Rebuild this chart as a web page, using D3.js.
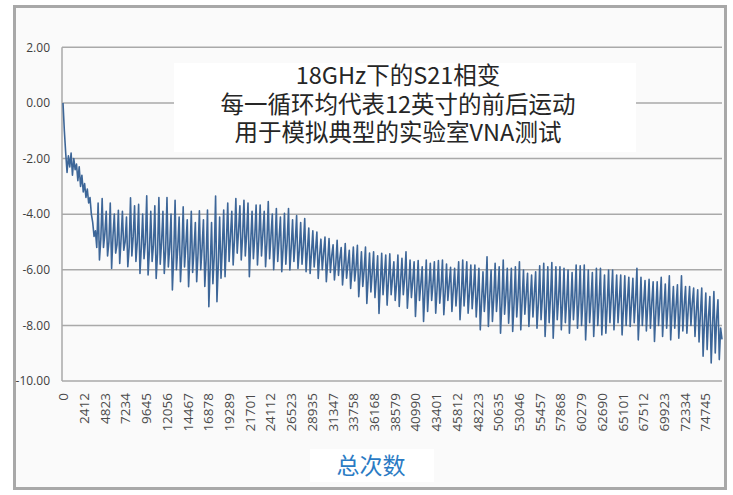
<!DOCTYPE html>
<meta charset="utf-8">
<style>
    body { margin: 0; background: #fff; }
    text { font-family: "Open Sans", "Noto Sans", sans-serif; }
    .title text { font-family: "Noto Sans CJK SC", "Noto Sans", sans-serif; }
</style>
<svg width="733" height="495"></svg>
<script src="https://d3js.org/d3.v7.min.js"></script>
<script>

    var titleLines = ["18GHz下的S21相变", "每一循环均代表12英寸的前后运动", "用于模拟典型的实验室VNA测试"];
    var axisTitle = "总次数";

    var yTicks = [2, 0, -2, -4, -6, -8, -10];
    var xLabels = [0, 2412, 4823, 7234, 9645, 12056, 14467, 16878, 19289, 21701, 24112, 26523,
        28935, 31347, 33758, 36168, 38579, 40990, 43401, 45812, 48223, 50635, 53046, 55457,
        57868, 60279, 62690, 65101, 67512, 69923, 72334, 74745];
    var countMax = 76700;

    // start of the run, before the cycles settle
    var head = [0.0, -1.0, -1.8, -2.5, -1.9, -2.3, -1.8, -2.6, -2.0, -2.4, -2.2, -2.8, -2.3,
        -3.0, -2.6, -3.2, -2.9, -3.4, -3.1, -3.6, -3.4, -4.0, -4.3, -4.8, -4.6, -5.2];

    // one value per back-and-forth cycle
    var peaks = [
        -3.6, -3.44, -3.9, -3.6, -4.0, -3.86, -3.9, -4.1, -3.41, -3.7,
        -3.65, -4.0, -3.34, -3.9, -3.7, -3.4, -3.9, -3.4, -4.0, -3.5,
        -4.1, -3.74, -4.2, -3.9, -4.3, -3.88, -4.2, -3.85, -4.3, -3.35,
        -4.1, -3.85, -3.6, -3.9, -3.44, -3.7, -3.5, -3.6, -3.9, -3.67,
        -3.67, -3.9, -3.55, -4.0, -3.8, -4.1, -3.97, -3.8, -4.2, -4.05,
        -4.3, -4.16, -4.5, -4.6, -4.64, -4.9, -4.82, -4.88, -5.1, -4.94,
        -5.2, -5.06, -5.3, -5.18, -5.12, -5.35, -5.18, -5.4, -5.35, -5.5,
        -5.41, -5.47,
        -5.43, -5.71, -5.47, -5.59, -5.35, -5.65, -5.71, -5.67, -5.89, -5.65,
        -5.77, -5.71, -5.67, -5.65, -5.79, -5.91, -5.95, -5.71, -5.65, -5.71,
        -5.83, -5.83, -5.95, -6.07, -5.53, -6.01, -5.77, -5.89, -5.65, -5.95,
        -5.95, -5.89, -5.71, -6.01, -6.13, -6.19, -6.07, -5.86, -5.77, -5.89,
        -5.74, -5.89, -5.89, -5.95, -6.01, -6.1, -5.83, -5.86, -5.83, -6.01,
        -6.1, -5.95, -5.95, -6.19, -6.01, -6.01, -6.19, -6.19, -6.22, -6.27,
        -6.31, -5.95, -6.27, -6.39, -6.34, -6.43, -6.43, -6.27, -6.51, -6.22,
        -6.6, -6.54, -6.22, -6.6, -6.6, -6.66, -6.72, -6.66, -6.84, -6.96,
        -6.78, -7.08];
    var troughs = [
        -5.65, -5.2, -5.5, -5.95, -5.4, -5.77, -5.3, -5.89, -5.5, -5.7,
        -6.13, -5.6, -6.19, -5.7, -6.31, -5.8, -6.13, -5.9, -6.73, -6.0,
        -6.43, -5.9, -6.61, -6.1, -6.43, -6.0, -6.6, -7.33, -6.5, -7.15,
        -6.3, -6.25, -5.7, -5.83, -5.4, -5.65, -5.5, -6.25, -5.6, -5.83,
        -5.5, -5.89, -5.6, -6.0, -5.7, -6.07, -5.8, -6.01, -5.7, -5.95,
        -5.8, -6.07, -6.13, -5.9, -6.31, -6.0, -6.43, -6.1, -6.37, -6.2,
        -6.55, -6.3, -6.67, -6.4, -6.97, -6.6, -7.21, -6.8, -7.0, -7.57,
        -6.9, -7.27,
        -6.9, -7.1, -7.32, -6.9, -7.38, -7.0, -7.68, -7.1, -7.86, -7.5,
        -7.1, -7.56, -7.2, -7.62, -7.1, -7.5, -7.3, -7.8, -7.3, -7.56,
        -7.4, -7.7, -8.16, -7.5, -8.04, -7.86, -7.5, -8.28, -7.6, -7.92,
        -8.22, -7.7, -8.16, -7.6, -8.04, -7.7, -8.1, -7.8, -8.4, -7.9,
        -8.46, -7.8, -8.16, -7.9, -8.28, -7.8, -8.1, -8.0, -8.52, -7.9,
        -8.4, -8.0, -8.34, -8.28, -7.9, -8.16, -7.9, -8.34, -8.0, -8.04,
        -7.9, -8.52, -8.0, -8.2, -8.1, -8.58, -8.0, -8.4, -8.1, -8.52,
        -8.1, -8.46, -8.2, -8.28, -8.0, -8.4, -8.6, -9.11, -8.87, -9.35,
        -8.99, -9.23];
    var mids = [
        -4.9, -4.7, -5.0, -4.8, -5.1, -4.9, -5.0, -5.2, -4.8, -5.0, -5.2,
        -5.0, -5.3, -5.1, -5.4, -5.0, -5.3, -5.2, -5.5, -5.2, -5.4,
        -5.1, -5.5, -5.3, -5.4, -5.2, -5.6, -5.9, -5.5, -5.8, -5.2,
        -5.0, -4.8, -4.9, -4.6, -4.8, -4.7, -5.0, -4.8, -4.9, -4.7,
        -5.0, -4.8, -5.1, -4.9, -5.2, -5.0, -5.2, -5.0, -5.3, -5.1,
        -5.3, -5.4, -5.3, -5.5, -5.4, -5.7, -5.5, -5.8, -5.6, -5.9,
        -5.8, -6.0, -5.9, -6.2, -6.0, -6.3, -6.1, -6.3, -6.5, -6.2, -6.4,
        -6.3, -6.5, -6.4, -6.3, -6.6, -6.4, -6.7, -6.5, -6.8, -6.6,
        -6.5, -6.7, -6.6, -6.8, -6.5, -6.7, -6.6, -6.9, -6.6, -6.8,
        -6.7, -6.9, -7.1, -6.8, -7.0, -7.0, -6.8, -7.2, -6.9, -7.0,
        -7.2, -6.9, -7.1, -6.9, -7.1, -6.9, -7.2, -7.0, -7.3, -7.0,
        -7.3, -7.0, -7.2, -7.1, -7.3, -7.0, -7.2, -7.1, -7.4, -7.1,
        -7.3, -7.1, -7.3, -7.3, -7.0, -7.2, -7.1, -7.4, -7.1, -7.2,
        -7.1, -7.5, -7.2, -7.3, -7.2, -7.5, -7.2, -7.4, -7.3, -7.5,
        -7.3, -7.5, -7.3, -7.4, -7.2, -7.5, -7.6, -7.9, -7.7, -8.0, -7.8, -8.1];
    var tail = [-8.5];

    // walk the cycles: peak, trough, rebound
    var values = head.slice();
    peaks.forEach(function (p, k) {
        values.push(p, troughs[k], mids[k]);
    });
    values = values.concat(tail);
    var step = countMax / (values.length - 1);
    var data = values.map(function (v, i) { return { n: i * step, v: v }; });

    var svg = d3.select("svg");

    // outer frame
    svg.append("rect")
        .attr("x", 14.5).attr("y", 6.5)
        .attr("width", 711).attr("height", 482)
        .attr("fill", "#fafafa")
        .attr("stroke", "#a8a8a8")
        .attr("stroke-width", 3);

    var x = d3.scaleLinear().domain([0, countMax]).range([63, 722]);
    var y = d3.scaleLinear().domain([-10, 2]).range([381, 47.3]);

    // gridlines
    svg.append("g")
        .selectAll("line")
        .data(yTicks)
        .enter().append("line")
        .attr("x1", 62).attr("x2", 722)
        .attr("y1", function (d) { return y(d); })
        .attr("y2", function (d) { return y(d); })
        .attr("stroke", "#a9a9a9")
        .attr("stroke-width", 1.5);

    svg.append("line")
        .attr("x1", 62).attr("x2", 62)
        .attr("y1", y(2)).attr("y2", y(-10))
        .attr("stroke", "#a9a9a9")
        .attr("stroke-width", 1.5);

    svg.append("g")
        .selectAll("text")
        .data(yTicks)
        .enter().append("text")
        .attr("x", 50)
        .attr("y", function (d) { return y(d); })
        .attr("dy", "0.35em")
        .style("text-anchor", "end")
        .style("font-size", "12px")
        .attr("fill", "#404040")
        .text(function (d) { return d.toFixed(2); });

    var xAxis = d3.axisBottom(x)
        .tickValues(xLabels)
        .tickSize(0)
        .tickFormat(function (d) { return d; });

    var gx = svg.append("g")
        .attr("transform", "translate(0," + y(-10) + ")")
        .call(xAxis);
    gx.select(".domain").remove();
    gx.selectAll("text")
        .attr("transform", "rotate(-90)")
        .attr("x", -12)
        .attr("y", 0)
        .attr("dy", "0.35em")
        .style("text-anchor", "end")
        .style("font-size", "13.5px")
        .style("font-family", "\"Open Sans\", sans-serif")
        .attr("fill", "#4a4a4a");

    // the series
    var line = d3.line()
        .x(function (d) { return x(d.n); })
        .y(function (d) { return y(d.v); });

    svg.append("path")
        .datum(data)
        .attr("d", line)
        .attr("fill", "none")
        .attr("stroke", "#3d6698")
        .attr("stroke-width", 1.6)
        .attr("stroke-linejoin", "round");

    // title box, one text block with three lines
    var title = svg.append("g").attr("class", "title");
    title.append("rect")
        .attr("x", 174).attr("y", 63)
        .attr("width", 462).attr("height", 89)
        .attr("fill", "#ffffff");
    title.append("text")
        .attr("x", 398)
        .attr("y", 84)
        .style("text-anchor", "middle")
        .style("font-size", "23.5px")
        .attr("fill", "#262626")
        .selectAll("tspan")
        .data(titleLines)
        .enter().append("tspan")
        .attr("x", 398)
        .attr("y", function (d, i) { return 84 + i * 28.5; })
        .text(function (d) { return d; });

    // axis title box
    var at = svg.append("g").attr("class", "title");
    at.append("rect")
        .attr("x", 310).attr("y", 449)
        .attr("width", 124).attr("height", 33)
        .attr("fill", "#ffffff");
    at.append("text")
        .attr("x", 371).attr("y", 474)
        .style("text-anchor", "middle")
        .style("font-size", "23px")
        .attr("fill", "#2b7bc4")
        .text(axisTitle);

</script>
